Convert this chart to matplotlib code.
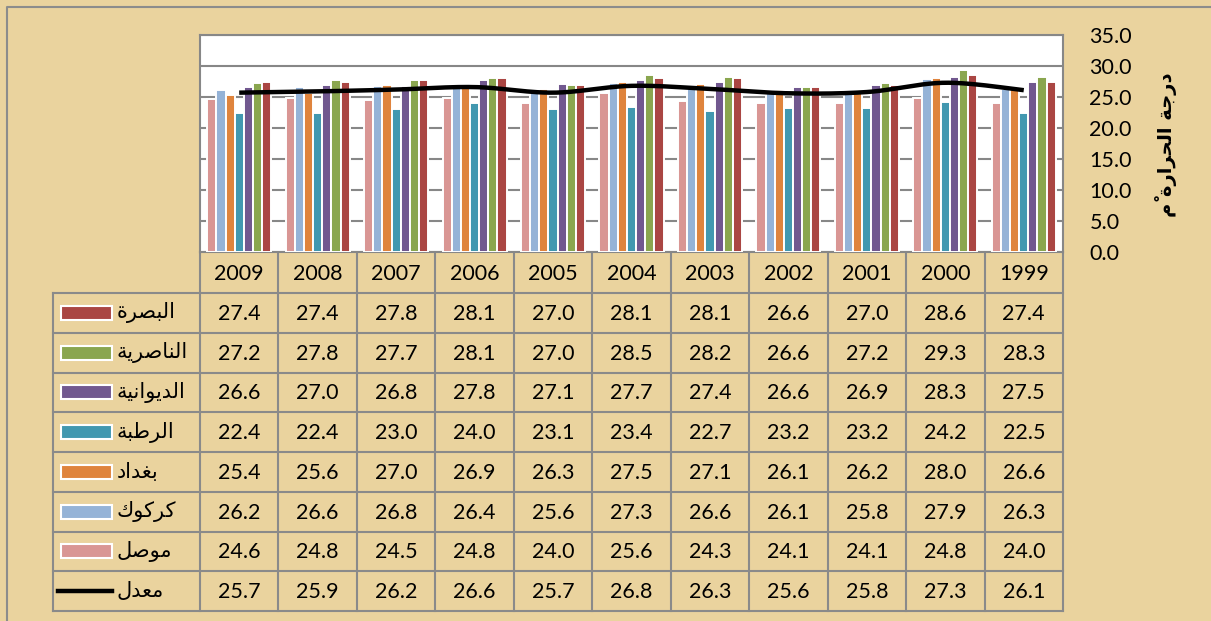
import numpy as np
import matplotlib
matplotlib.use("Agg")
import matplotlib.pyplot as plt
from matplotlib.patches import Rectangle

# ---------------- data (left to right as displayed) ----------------
years = ['2009', '2008', '2007', '2006', '2005', '2004', '2003', '2002', '2001', '2000', '1999']
basra    = [27.4, 27.4, 27.8, 28.1, 27.0, 28.1, 28.1, 26.6, 27.0, 28.6, 27.4]
nasiriya = [27.2, 27.8, 27.7, 28.1, 27.0, 28.5, 28.2, 26.6, 27.2, 29.3, 28.3]
diwaniya = [26.6, 27.0, 26.8, 27.8, 27.1, 27.7, 27.4, 26.6, 26.9, 28.3, 27.5]
rutba    = [22.4, 22.4, 23.0, 24.0, 23.1, 23.4, 22.7, 23.2, 23.2, 24.2, 22.5]
baghdad  = [25.4, 25.6, 27.0, 26.9, 26.3, 27.5, 27.1, 26.1, 26.2, 28.0, 26.6]
kirkuk   = [26.2, 26.6, 26.8, 26.4, 25.6, 27.3, 26.6, 26.1, 25.8, 27.9, 26.3]
mosul    = [24.6, 24.8, 24.5, 24.8, 24.0, 25.6, 24.3, 24.1, 24.1, 24.8, 24.0]
average  = [25.7, 25.9, 26.2, 26.6, 25.7, 26.8, 26.3, 25.6, 25.8, 27.3, 26.1]

names_bar = ['موصل', 'كركوك', 'بغداد', 'الرطبة', 'الديوانية', 'الناصرية', 'البصرة']
series_bar = [mosul, kirkuk, baghdad, rutba, diwaniya, nasiriya, basra]
colors_bar = ['#D99694', '#95B3D7', '#DF843D', '#4298B0', '#71588F', '#8AA64F', '#AA4643']
avg_name = 'معدل'
ylabel = 'درجة الحرارة مْ'

# ---------------- minimal Arabic shaping ----------------
FORMS = {
    'ا': (0xFE8D, 0xFE8E, None, None), 'ب': (0xFE8F, 0xFE90, 0xFE91, 0xFE92),
    'ة': (0xFE93, 0xFE94, None, None), 'ج': (0xFE9D, 0xFE9E, 0xFE9F, 0xFEA0),
    'ح': (0xFEA1, 0xFEA2, 0xFEA3, 0xFEA4), 'د': (0xFEA9, 0xFEAA, None, None),
    'ر': (0xFEAD, 0xFEAE, None, None), 'ص': (0xFEB9, 0xFEBA, 0xFEBB, 0xFEBC),
    'ط': (0xFEC1, 0xFEC2, 0xFEC3, 0xFEC4), 'ع': (0xFEC9, 0xFECA, 0xFECB, 0xFECC),
    'غ': (0xFECD, 0xFECE, 0xFECF, 0xFED0), 'ك': (0xFED9, 0xFEDA, 0xFEDB, 0xFEDC),
    'ل': (0xFEDD, 0xFEDE, 0xFEDF, 0xFEE0), 'م': (0xFEE1, 0xFEE2, 0xFEE3, 0xFEE4),
    'ن': (0xFEE5, 0xFEE6, 0xFEE7, 0xFEE8), 'و': (0xFEED, 0xFEEE, None, None),
    'ي': (0xFEF1, 0xFEF2, 0xFEF3, 0xFEF4),
}
MARKS = {'\u0652', '\u064E', '\u064F', '\u0650'}


def shape(text):
    ch = list(text)
    n = len(ch)
    out = []
    for k, c in enumerate(ch):
        if c not in FORMS:
            out.append(c)
            continue
        j = k - 1
        while j >= 0 and ch[j] in MARKS:
            j -= 1
        jp = j >= 0 and ch[j] in FORMS and FORMS[ch[j]][2] is not None
        m = k + 1
        while m < n and ch[m] in MARKS:
            m += 1
        jn = m < n and ch[m] in FORMS and FORMS[c][2] is not None
        f = FORMS[c]
        if jp and jn:
            g = f[3]
        elif jp:
            g = f[1]
        elif jn:
            g = f[2]
        else:
            g = f[0]
        out.append(chr(g))
    clusters = []
    for c in out:
        if c in MARKS and clusters:
            clusters[-1] += c
        else:
            clusters.append(c)
    return ''.join(reversed(clusters))


def catmull(x, y, n=24):
    P = np.column_stack([x, y]).astype(float)
    P = np.vstack([P[0], P, P[-1]])
    pts = []
    t = np.linspace(0, 1, n, endpoint=False)[:, None]
    for i in range(1, len(P) - 2):
        p0, p1, p2, p3 = P[i - 1], P[i], P[i + 1], P[i + 2]
        pts.append(0.5 * ((2 * p1) + (-p0 + p2) * t + (2 * p0 - 5 * p1 + 4 * p2 - p3) * t ** 2
                          + (-p0 + 3 * p1 - 3 * p2 + p3) * t ** 3))
    pts.append(P[-2][None])
    return np.vstack(pts)


# ---------------- layout ----------------
W, H = 1211, 621
BG = '#EAD39E'
GRID = '#878787'
NUMFONT = ['Lato', 'DejaVu Sans']
ARFONT = ['DejaVu Sans']

fig = plt.figure(figsize=(W / 100, H / 100), dpi=100)
fig.patch.set_facecolor(BG)

bg = fig.add_axes([0, 0, 1, 1], zorder=0)
bg.set_xlim(0, W)
bg.set_ylim(H, 0)
bg.axis('off')

PL, PR, PT, PB = 200, 1063, 35, 252
ax = fig.add_axes([PL / W, 1 - PB / H, (PR - PL) / W, (PB - PT) / H], zorder=2)
ax.set_facecolor('white')

ncat = len(years)
nser = len(series_bar)
x = np.arange(ncat)
slot = 0.1166
for s, (vals, col) in enumerate(zip(series_bar, colors_bar)):
    ax.bar(x + (s - (nser - 1) / 2) * slot, vals, width=slot, color=col,
           edgecolor='white', linewidth=1.4, zorder=3)

sm = catmull(x, average)
ax.plot(sm[:, 0], sm[:, 1], color='black', lw=3.2, zorder=4, solid_capstyle='butt')

ax.set_xlim(-0.5, ncat - 0.5)
ax.set_ylim(0, 35)
ax.set_yticks(np.arange(0, 36, 5))
ax.set_yticklabels([f'{v:.1f}' for v in np.arange(0, 36, 5)], fontfamily=NUMFONT, fontsize=15.5)
ax.set_xticks([])
ax.yaxis.tick_right()
ax.tick_params(axis='y', length=0, pad=19)
ax.grid(axis='y', color=GRID, lw=1.5, zorder=1)
ax.set_axisbelow(True)
for sp in ax.spines.values():
    sp.set_color(GRID)
    sp.set_linewidth(1.5)

# chart area border (top / left)
bg.plot([7, 7, W], [H, 7, 7], color='#8C8C8C', lw=1.5)

# y-axis title
bg.text(1166, 145, shape(ylabel), rotation=90, fontsize=14, fontweight='bold',
        ha='center', va='center', fontfamily=ARFONT)

# ---------------- data table ----------------
colw = (PR - PL) / ncat
HDR_B = 293
ROW_H = 39.75
rows = [('البصرة', basra, '#AA4643'), ('الناصرية', nasiriya, '#8AA64F'),
        ('الديوانية', diwaniya, '#71588F'), ('الرطبة', rutba, '#4298B0'),
        ('بغداد', baghdad, '#DF843D'), ('كركوك', kirkuk, '#95B3D7'),
        ('موصل', mosul, '#D99694'), (avg_name, average, None)]
TB = HDR_B + ROW_H * len(rows)
TL = 53
lc = '#8A8A8A'
for i in range(ncat + 1):
    xx = PL + i * colw
    bg.plot([xx, xx], [PB, TB], color=lc, lw=1.5)
bg.plot([TL, TL], [HDR_B, TB], color=lc, lw=1.5)
for r in range(len(rows) + 1):
    yy = HDR_B + r * ROW_H
    bg.plot([TL, PR], [yy, yy], color=lc, lw=1.5)

for i, yr in enumerate(years):
    bg.text(PL + (i + 0.5) * colw, (PB + HDR_B) / 2 + 1, yr, ha='center', va='center',
            fontsize=15.5, fontfamily=NUMFONT)

for r, (name, vals, col) in enumerate(rows):
    yc = HDR_B + (r + 0.5) * ROW_H
    for i, v in enumerate(vals):
        bg.text(PL + (i + 0.5) * colw, yc + 1, f'{v:.1f}', ha='center', va='center',
                fontsize=15.5, fontfamily=NUMFONT)
    if col is not None:
        bg.add_patch(Rectangle((61, yc - 7), 51, 14, facecolor=col, edgecolor='white', lw=1.5))
    else:
        bg.plot([58, 112], [yc, yc], color='black', lw=3.2)
    bg.text(117, yc, shape(name), ha='left', va='center', fontsize=15, fontfamily=ARFONT)

fig.savefig('out.png', dpi=100, facecolor=BG)
